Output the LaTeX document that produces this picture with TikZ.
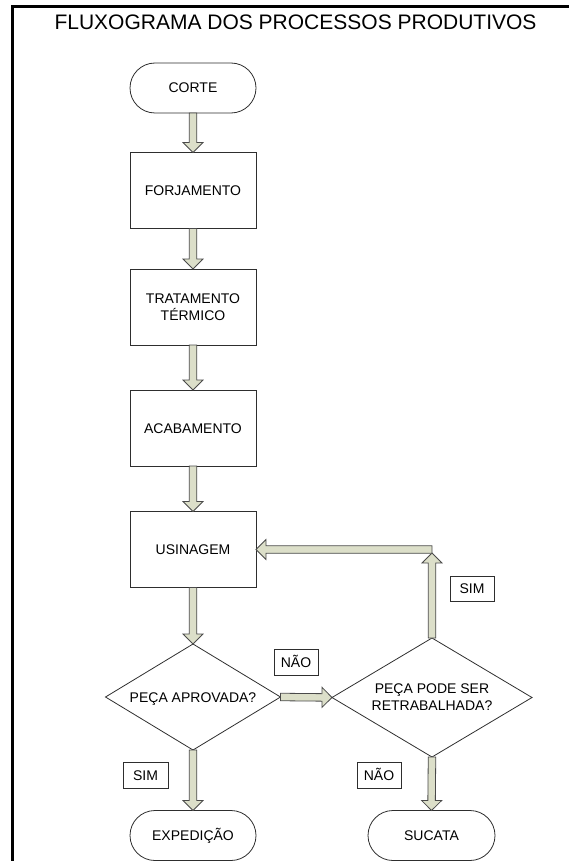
\documentclass[tikz,border=0pt]{standalone}
\usepackage{fontspec}
\setmainfont{Liberation Sans}
\usetikzlibrary{calc,shapes.geometric}

\definecolor{edgegray}{HTML}{2E2E2E}
\definecolor{arrowfill}{HTML}{DCDFC9}
\definecolor{arrowedge}{HTML}{4A4A4A}

% block arrow from #1 to #2 (shaft, then triangular head ending at #2)
\newcommand{\flowarrow}[2]{%
  \coordinate (bh) at ($(#2)!10pt!(#1)$);
  \draw[barrow]
    ($(#1)!3.75pt!90:(#2)$) -- ($(bh)!3.75pt!-90:(#1)$) --
    ($(bh)!10pt!-90:(#1)$) -- (#2) -- ($(bh)!10pt!90:(#1)$) --
    ($(bh)!3.75pt!90:(#1)$) -- ($(#1)!3.75pt!-90:(#2)$) -- cycle;
}

\begin{document}
\begin{tikzpicture}[x=1pt,y=-1pt,
  base/.style={draw=edgegray, line width=0.8pt, outer sep=0pt, inner sep=0pt,
    font=\fontsize{14}{17}\selectfont, align=center},
  oneline/.style={text height=10pt, text depth=0pt},
  terminal/.style={base, oneline, rectangle, rounded corners=25pt,
    minimum width=126pt, minimum height=50pt},
  process/.style={base, rectangle, minimum width=126pt, minimum height=76pt},
  decision/.style={base, diamond, aspect=1.65},
  tag/.style={base, oneline, line width=0.7pt, rectangle,
    minimum width=44pt, minimum height=26pt},
  barrow/.style={draw=arrowedge, fill=arrowfill, line width=0.8pt, line join=miter}
]
\useasboundingbox (0,0) rectangle (569,861);

% outer frame
\draw[line width=3pt] (12.5,900) -- (12.5,7) -- (620,7);

\node[anchor=base, font=\fontsize{21}{25}\selectfont] (title) at (295.5,29.5)
  {FLUXOGRAMA DOS PROCESSOS PRODUTIVOS};

% main column
\node[terminal] (corte) at (193,88) {CORTE};
\node[process, oneline] (forj) at (193,190.5) {FORJAMENTO};
\node[process] (trat) at (193,307) {TRATAMENTO\\TÉRMICO};
\node[process, oneline] (acab) at (193,428) {ACABAMENTO};
\node[process, oneline] (usin) at (193,549.5) {USINAGEM};
\node[decision, oneline, minimum width=175pt, minimum height=106pt] (aprov) at (193,697)
  {PEÇA APROVADA?};
\node[terminal] (exped) at (193,835.5) {EXPEDIÇÃO};

% rework branch
\node[decision, minimum width=200pt, minimum height=119pt] (retrab) at (432,697.5)
  {PEÇA PODE SER\\RETRABALHADA?};
\node[terminal, minimum width=127pt] (sucata) at (431.5,835.5) {SUCATA};

% answer tags
\node[tag] (nao1) at (296,662) {NÃO};
\node[tag, minimum height=25pt] (sim1) at (472,588.5) {SIM};
\node[tag, minimum width=45pt] (sim2) at (145.5,775) {SIM};
\node[tag] (nao2) at (379,775) {NÃO};

% connectors
\flowarrow{corte.south}{forj.north}
\flowarrow{forj.south}{trat.north}
\flowarrow{trat.south}{acab.north}
\flowarrow{acab.south}{usin.north}
\flowarrow{usin.south}{aprov.north}
\flowarrow{aprov.east}{retrab.west}
\flowarrow{aprov.south}{exped.north}
\flowarrow{retrab.south}{sucata.north}

\coordinate (turn) at (retrab.north |- usin.east);
\coordinate (turnin) at ($(turn)+(0,3.5)$);
\flowarrow{retrab.north}{turnin}
\flowarrow{turn}{usin.east}
\end{tikzpicture}
\end{document}
